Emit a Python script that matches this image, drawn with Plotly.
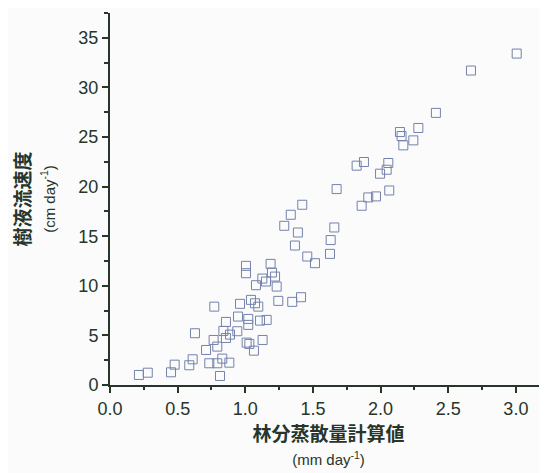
import plotly.graph_objects as go

# Calculated stand transpiration (mm/day)
x_vals = [0.214, 0.279, 0.451, 0.478, 0.586, 0.611, 0.628, 0.710, 0.734, 0.766,
          0.771, 0.793, 0.793, 0.813, 0.830, 0.838, 0.857, 0.857, 0.882, 0.887,
          0.941, 0.946, 0.961, 1.010, 1.022, 1.022, 1.005, 1.005, 1.030, 1.042,
          1.064, 1.072, 1.079, 1.096, 1.109, 1.126, 1.128, 1.153, 1.158, 1.187,
          1.197, 1.220, 1.232, 1.244, 1.288, 1.336, 1.347, 1.367, 1.389, 1.412,
          1.421, 1.458, 1.515, 1.626, 1.631, 1.658, 1.823, 1.877, 2.057, 2.045,
          1.996, 1.675, 2.064, 1.966, 1.909, 1.860, 3.006, 2.668, 2.409, 2.279,
          2.143, 2.155, 2.242, 2.168]
# Sap flow velocity (cm/day)
y_vals = [1.01, 1.24, 1.28, 2.05, 1.99, 2.59, 5.22, 3.53, 2.19, 4.54,
          7.90, 3.87, 2.19, 0.91, 2.66, 5.45, 6.36, 4.74, 2.25, 5.08,
          5.42, 6.90, 8.18, 4.27, 6.06, 6.66, 12.01, 11.27, 4.14, 8.58,
          3.46, 8.24, 10.06, 7.90, 6.49, 10.73, 4.54, 10.43, 6.56, 12.21,
          11.34, 10.93, 9.92, 8.48, 16.05, 17.16, 8.38, 14.06, 15.37, 8.85,
          18.17, 12.95, 12.28, 13.22, 14.61, 15.88, 22.11, 22.48, 22.38, 21.70,
          21.30, 19.75, 19.61, 19.01, 18.91, 18.07, 33.41, 31.70, 27.43, 25.91,
          25.50, 25.10, 24.66, 24.16]

x_title = "林分蒸散量計算値"
x_unit = "(mm day<sup>-1</sup>)"
y_title = "樹液流速度"
y_unit = "(cm day<sup>-1</sup>)"

axis_col = "#27352b"
tick_fam = "Arial, 'Liberation Sans', sans-serif"
cjk_fam = "'Noto Sans CJK JP', Arial, sans-serif"

fig = go.Figure()
fig.add_trace(go.Scatter(
    x=x_vals, y=y_vals, mode="markers",
    marker=dict(symbol="square-open", size=9, color="#7482ad",
                line=dict(width=1, color="#7482ad")),
    showlegend=False,
))

fig.update_layout(
    width=539, height=465,
    margin=dict(l=102, r=0, t=5, b=88),
    paper_bgcolor="#fafbfa", plot_bgcolor="#fafbfa",
    font=dict(family=tick_fam, color=axis_col),
    xaxis=dict(
        range=[0, 3.23], showgrid=False, zeroline=False, automargin=False,
        showline=True, linecolor=axis_col, linewidth=2,
        tickmode="linear", tick0=0, dtick=0.5, tickformat=".1f",
        ticks="outside", ticklen=6, tickwidth=1.5, tickcolor=axis_col,
        minor=dict(ticks="outside", dtick=0.25, ticklen=3, tickwidth=1.5, tickcolor=axis_col),
        tickfont=dict(size=18, color=axis_col, family=tick_fam),
        title=dict(text="<b>" + x_title + "</b><br><span style='font-size:15px;font-family:Arial'>" + x_unit + "</span>",
                   font=dict(size=19, color=axis_col, family=cjk_fam),
                   standoff=8),
    ),
    yaxis=dict(
        range=[0, 37.5], showgrid=False, zeroline=False, automargin=False,
        showline=True, linecolor=axis_col, linewidth=2,
        tickmode="linear", tick0=0, dtick=5,
        ticks="outside", ticklen=6, tickwidth=1.5, tickcolor=axis_col,
        minor=dict(ticks="outside", dtick=2.5, ticklen=4, tickwidth=1.5, tickcolor=axis_col),
        tickfont=dict(size=18, color=axis_col, family=tick_fam),
        title=dict(text="<b>" + y_title + "</b><br><span style='font-size:15px;font-family:Arial'>" + y_unit + "</span>",
                   font=dict(size=19, color=axis_col, family=cjk_fam),
                   standoff=18),
    ),
)

fig.write_html("out.html")
